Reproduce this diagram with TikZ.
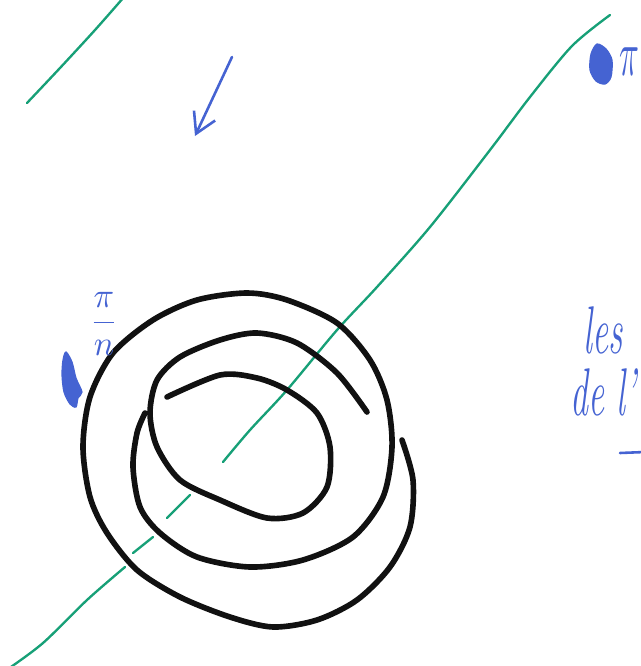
\documentclass[tikz,border=0pt]{standalone}
\usepackage{amsmath}
\usetikzlibrary{arrows.meta}
\definecolor{ink}{HTML}{111111}
\definecolor{axisgreen}{HTML}{17A077}
\definecolor{penblue}{HTML}{4563D2}

\begin{document}
\begin{tikzpicture}[x=0.03cm, y=-0.03cm,
    spiral/.style={ink, line width=4.8pt, line cap=round, line join=round},
    axisline/.style={axisgreen, line width=2pt, line cap=round, line join=round},
    penline/.style={penblue, line width=2.2pt, line cap=round, line join=round},
    blob/.style={fill=penblue, draw=penblue, line width=1pt},
    hand/.style={text=penblue, inner sep=0pt, font=\fontsize{32}{36}\selectfont\itshape},
    handmath/.style={text=penblue, inner sep=0pt, font=\normalsize}]
\useasboundingbox (0,0) rectangle (641,666);
\clip (0,0) rectangle (641,666);
% Green axes
\draw[axisline] plot[smooth] coordinates {(27,103) (60,68) (95,30) (124,-3)};
\draw[axisline] plot[smooth] coordinates {(610,15) (572,46) (530,97) (490,150) (430,227) (377,287) (337,330) (287,390) (250,430) (223,462)};
\draw[axisline] (190,495) -- (167,518);
\draw[axisline] (153,537) -- (133,553);
\draw[axisline] plot[smooth] coordinates {(125,567) (87,600) (43,643) (8,669)};
% Spiral: inner turn
\draw[spiral] plot[smooth] coordinates {(167,397) (220,375) (257,378) (287,390) (317,413) (330,447) (327,487) (303,513) (267,518) (220,500) (180,480) (157,447) (150,413) (157,380) (180,357) (220,340) (257,333) (297,343) (337,373) (367,412)};
% Spiral: outer turns
\draw[spiral] plot[smooth] coordinates {(145,413) (137,433) (133,467) (140,507) (160,533) (197,557) (250,567) (303,560) (353,537) (383,497) (392,447) (387,400) (370,360) (337,323) (287,300) (247,293) (197,300) (153,320) (113,353) (90,397) (83,447) (90,497) (107,533) (137,570) (180,597) (230,617) (273,627) (317,620) (357,600) (390,567) (410,527) (413,480) (402,440)};
% Blue marks
\coordinate (arrowtail) at (232,57);
\coordinate (arrowhead) at (195,136);
\draw[penline, -{Straight Barb[length=6mm, width=7mm]}] (arrowtail) -- (arrowhead);
\draw[blob] plot[smooth cycle] coordinates {(597,44) (606,49) (612,60) (611,77) (605,84) (596,81) (590,70) (591,54)};
\draw[blob] plot[smooth cycle] coordinates {(66,352) (72,362) (76,378) (82,392) (78,398) (76,407) (70,404) (64,392) (62,375) (63,360)};
\node[handmath] (pitop) at (629,62) {\scalebox{2.8}[5.5]{$\pi$}};
\node[handmath] (pifrac) at (104,324) {\scalebox{2.9}[3]{$\dfrac{\pi}{n}$}};
\node[hand, anchor=base west] (les) at (583,353) {\scalebox{0.95}[1.8]{les}};
\node[hand, anchor=base west] (delp) at (570,415) {\scalebox{0.95}[1.8]{de l'}};
\coordinate (underA) at (620,453);
\coordinate (underB) at (645,452);
\draw[penline] (underA) -- (underB);
\end{tikzpicture}
\end{document}
